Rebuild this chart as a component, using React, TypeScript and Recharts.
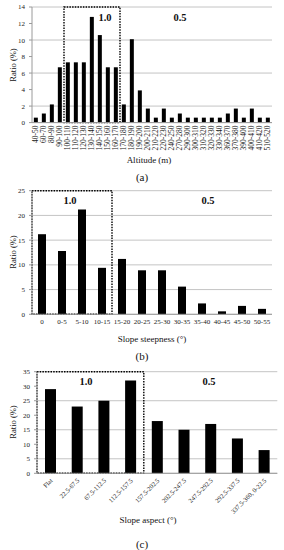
import React from 'react';
import { BarChart, Bar, XAxis, YAxis, CartesianGrid, ReferenceArea } from 'recharts';

const altitudeCats = ['40-50','60-70','80-90','90-100','100-110','110-120','120-130','130-140','140-150','150-160','160-170','170-180','180-190','190-200','200-210','210-220','220-230','240-250','270-280','290-300','300-310','310-320','320-330','330-340','360-370','370-380','390-400','400-410','410-420','510-520'];
const altitudeVals = [0.6,1.1,2.2,6.7,7.3,7.3,7.3,12.8,10.6,6.7,6.7,2.2,10.1,3.9,1.7,0.6,1.7,0.6,1.1,0.6,0.6,0.6,0.6,0.6,1.1,1.7,0.6,1.7,0.6,0.6];
const altitudeTicks = [0,2,4,6,8,10,12,14];

const slopeCats = ['0','0-5','5-10','10-15','15-20','20-25','25-30','30-35','35-40','40-45','45-50','50-55'];
const slopeVals = [16.2,12.8,21.2,9.4,11.2,8.9,8.9,5.6,2.2,0.6,1.7,1.1];
const slopeTicks = [0,5,10,15,20,25];

const aspectCats = ['Flat','22.5-67.5','67.5-112.5','112.5-157.5','157.5-202.5','202.5-247.5','247.5-292.5','292.5-337.5','337.5-360, 0-22.5'];
const aspectVals = [29,23,25,32,18,15,17,12,8];
const aspectTicks = [0,5,10,15,20,25,30,35];

const altitudeData = altitudeCats.map((c, i) => ({ cat: c, v: altitudeVals[i] }));
const slopeData = slopeCats.map((c, i) => ({ cat: c, v: slopeVals[i] }));
const aspectData = aspectCats.map((c, i) => ({ cat: c, v: aspectVals[i] }));

const FONT = '"Liberation Serif", "Times New Roman", serif';
const GRID = '#c4c4c4';
const AXIS = '#9a9a9a';
const TXT = '#222';

const VertTick = (props: any) => {
  const { x, y, payload } = props;
  const ty = y + 3;
  return (
    <text x={x} y={ty} transform={`rotate(-90 ${x} ${ty})`} textAnchor="end" dominantBaseline="central" fontSize={7.5} fontFamily={FONT} fill={TXT}>
      {payload.value}
    </text>
  );
};

const DiagTick = (props: any) => {
  const { x, y, payload } = props;
  const tx = x + 1;
  const ty = y + 6;
  return (
    <text x={tx} y={ty} transform={`rotate(-45 ${tx} ${ty})`} textAnchor="end" dominantBaseline="central" fontSize={6.5} fontFamily={FONT} fill={TXT}>
      {payload.value}
    </text>
  );
};

const yTickStyle = { fontSize: 7, fontFamily: FONT, fill: TXT };

const Txt = ({ x, y, size, bold, children, rotate }: any) => (
  <div style={{ position: 'absolute', left: x, top: y, transform: `translate(-50%,-50%)${rotate ? ` rotate(${rotate}deg)` : ''}`, fontFamily: FONT, fontSize: size, fontWeight: bold ? 'bold' : 'normal', color: '#111', whiteSpace: 'nowrap', lineHeight: 1 }}>
    {children}
  </div>
);

export default function App() {
  return (
    <div style={{ position: 'absolute', left: 0, top: 0, width: 284, height: 550, background: '#fff', overflow: 'hidden' }}>
      {/* Panel (a) */}
      <div style={{ position: 'absolute', left: 0, top: 0 }}>
        <BarChart width={284} height={160} data={altitudeData} margin={{ top: 7, right: 12, left: 0, bottom: 0 }} barCategoryGap="23%">
          <CartesianGrid vertical={false} stroke={GRID} />
          <XAxis dataKey="cat" interval={0} height={37.4} tickLine={false} tickSize={0} tickMargin={0} tick={<VertTick />} stroke={AXIS} />
          <YAxis domain={[0, 14]} ticks={altitudeTicks} width={32} tickSize={3} tickMargin={4} tick={yTickStyle} stroke={AXIS} />
          <YAxis yAxisId="r" orientation="right" width={0} tick={false} tickLine={false} stroke={AXIS} />
          <Bar dataKey="v" fill="#000" isAnimationActive={false} />
          <ReferenceArea x1="100-110" x2="160-170" y1={0} y2={14} fill="none" stroke="#000" strokeWidth={1.4} strokeDasharray="1.5 1.2" ifOverflow="visible" />
        </BarChart>
      </div>
      <Txt x={13} y={65} size={8.5} rotate={-90}>Ratio (%)</Txt>
      <Txt x={105} y={18} size={10.5} bold>1.0</Txt>
      <Txt x={180} y={18} size={10.5} bold>0.5</Txt>
      <Txt x={149} y={160} size={9}>Altitude (m)</Txt>
      <Txt x={142} y={177} size={11}>(a)</Txt>

      {/* Panel (b) */}
      <div style={{ position: 'absolute', left: 0, top: 180 }}>
        <BarChart width={284} height={150} data={slopeData} margin={{ top: 10.7, right: 12, left: 0, bottom: 0 }} barCategoryGap="30%">
          <CartesianGrid vertical={false} stroke={GRID} />
          <XAxis dataKey="cat" interval={0} height={15.7} tickLine={false} tickSize={0} tickMargin={5} tick={{ fontSize: 7, fontFamily: FONT, fill: TXT }} stroke={AXIS} />
          <YAxis domain={[0, 25]} ticks={slopeTicks} width={32} tickSize={3} tickMargin={4} tick={yTickStyle} stroke={AXIS} />
          <YAxis yAxisId="r" orientation="right" width={0} tick={false} tickLine={false} stroke={AXIS} />
          <Bar dataKey="v" fill="#000" isAnimationActive={false} />
          <ReferenceArea x1="0" x2="10-15" y1={0} y2={25} fill="none" stroke="#000" strokeWidth={1.4} strokeDasharray="1.5 1.2" ifOverflow="visible" />
        </BarChart>
      </div>
      <Txt x={13} y={252} size={8.5} rotate={-90}>Ratio (%)</Txt>
      <Txt x={70} y={201} size={10.5} bold>1.0</Txt>
      <Txt x={208} y={201} size={10.5} bold>0.5</Txt>
      <Txt x={152} y={339} size={9}>Slope steepness (°)</Txt>
      <Txt x={142} y={356} size={11}>(b)</Txt>

      {/* Panel (c) */}
      <div style={{ position: 'absolute', left: 0, top: 360 }}>
        <BarChart width={284} height={165} data={aspectData} margin={{ top: 11.7, right: 6.7, left: 0, bottom: 0 }} barCategoryGap="30%">
          <CartesianGrid vertical={false} stroke={GRID} />
          <XAxis dataKey="cat" interval={0} height={51.7} tickLine={false} tickSize={0} tickMargin={0} tick={<DiagTick />} stroke={AXIS} />
          <YAxis domain={[0, 35]} ticks={aspectTicks} width={37} tickSize={3} tickMargin={4} tick={yTickStyle} stroke={AXIS} />
          <YAxis yAxisId="r" orientation="right" width={0} tick={false} tickLine={false} stroke={AXIS} />
          <Bar dataKey="v" fill="#000" isAnimationActive={false} />
          <ReferenceArea x1="Flat" x2="112.5-157.5" y1={0} y2={35} fill="none" stroke="#000" strokeWidth={1.4} strokeDasharray="1.5 1.2" ifOverflow="visible" />
        </BarChart>
      </div>
      <Txt x={13} y={422} size={8.5} rotate={-90}>Ratio (%)</Txt>
      <Txt x={86} y={382} size={10.5} bold>1.0</Txt>
      <Txt x={209} y={382} size={10.5} bold>0.5</Txt>
      <Txt x={148} y={520} size={9}>Slope aspect (°)</Txt>
      <Txt x={142} y={544} size={11}>(c)</Txt>
    </div>
  );
}
